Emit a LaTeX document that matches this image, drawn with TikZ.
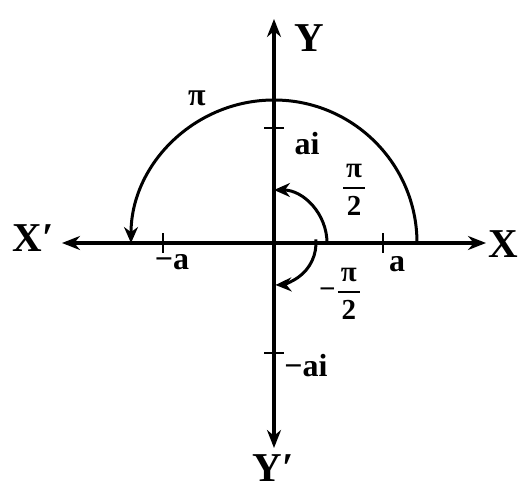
\documentclass[tikz,border=0pt]{standalone}
\usepackage{amsmath}
\usepackage{fontspec}
\setmainfont{Liberation Serif}
\usetikzlibrary{arrows.meta}
\begin{document}
\begin{tikzpicture}[x=1pt,y=1pt,
  axis/.style={line width=3.4pt,-{Stealth[length=18pt,width=14pt]}},
  arcline/.style={line width=3pt,-{Stealth[length=16pt,width=14pt]}},
  tickline/.style={line width=2.8pt},
  biglbl/.style={font=\fontsize{41}{43}\selectfont\bfseries, inner sep=0pt},
  lbl/.style={font=\fontsize{32}{34}\selectfont\bfseries, inner sep=0pt},
  frac/.style={font=\fontsize{29}{31}\selectfont\bfseries, inner sep=0pt}]
\useasboundingbox (0,0) rectangle (519,490);
\fill[white] (0,0) rectangle (519,490);
% axes
\coordinate (O) at (274,247);
\coordinate (XL) at (62,247);
\coordinate (XR) at (486,247);
\coordinate (YT) at (274,471);
\coordinate (YB) at (274,42);
\draw[axis] (O) -- (XR);
\draw[axis] (O) -- (XL);
\draw[axis] (O) -- (YT);
\draw[axis] (O) -- (YB);
% ticks
\coordinate (ta) at (383,247);
\coordinate (tma) at (163,247);
\coordinate (tai) at (274,362);
\coordinate (tmai) at (274,137);
\draw[tickline] ([yshift=-10pt]ta) -- ([yshift=10pt]ta);
\draw[tickline] ([yshift=-10pt]tma) -- ([yshift=10pt]tma);
\draw[tickline] ([xshift=-10pt]tai) -- ([xshift=10pt]tai);
\draw[tickline] ([xshift=-10pt]tmai) -- ([xshift=10pt]tmai);
% arcs
\draw[arcline] (417,247) arc[start angle=0,end angle=180,radius=143];
\draw[arcline] (327,247) arc[start angle=0,end angle=90,radius=53];
\draw[arcline] ([shift={(5:42)}]O) arc[start angle=5,end angle=-88,radius=42];
% labels
\node[biglbl] (lX) at (503,246) {X};
\node[biglbl] (lXp) at (33,252) {X′};
\node[biglbl] (lY) at (309,452) {Y};
\node[biglbl] (lYp) at (273,22) {Y′};
\node[lbl] (lpi) at (197,392) {π};
\node[lbl] (lai) at (307,346) {ai};
\node[lbl] (lma) at (172,228) {−a};
\node[lbl] (la) at (397,226) {a};
\node[lbl] (lmai) at (306,124) {−ai};
\node[frac] (f1) at (354,300) {$\genfrac{}{}{2.4pt}{0}{\mbox{\bfseries\kern3pt π\kern3pt}}{\mbox{\bfseries 2}}$};
\node[frac] (f2) at (340,196) {\mbox{\bfseries −}\kern1pt$\genfrac{}{}{2.4pt}{0}{\mbox{\bfseries\kern3pt π\kern3pt}}{\mbox{\bfseries 2}}$};
\end{tikzpicture}
\end{document}
